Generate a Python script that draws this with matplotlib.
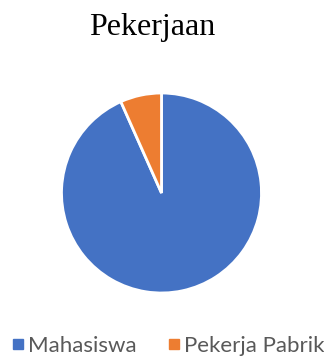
import matplotlib.pyplot as plt
from matplotlib.lines import Line2D

labels = ['Mahasiswa', 'Pekerja Pabrik']
values = [14, 1]
colors = ['#4472C4', '#ED7D31']

fig = plt.figure(figsize=(3.24, 3.56), dpi=100)
ax = fig.add_axes([(161.5 - 101) / 324, 1 - (193 + 101) / 356, 202 / 324, 202 / 356])
ax.pie(values, colors=colors, startangle=90, counterclock=False,
       wedgeprops={'edgecolor': 'white', 'linewidth': 2})
ax.set_xlim(-1.01, 1.01)
ax.set_ylim(-1.01, 1.01)
ax.set_aspect('equal')

fig.text(152.5 / 324, 1 - 27 / 356, 'Pekerjaan', ha='center', va='center',
         fontsize=23, family='Liberation Serif', color='black')

handles = [Line2D([], [], marker='s', linestyle='none', markersize=6.5,
                  markerfacecolor=c, markeredgecolor=c) for c in colors]
fig.legend(handles, labels, loc='center', bbox_to_anchor=(167 / 324, 1 - 346 / 356),
           ncol=2, frameon=False, prop={'family': 'Lato', 'size': 16},
           labelcolor='#595959', handletextpad=0.05, columnspacing=1.3,
           handlelength=0.8)

plt.savefig('out.png', dpi=100)
